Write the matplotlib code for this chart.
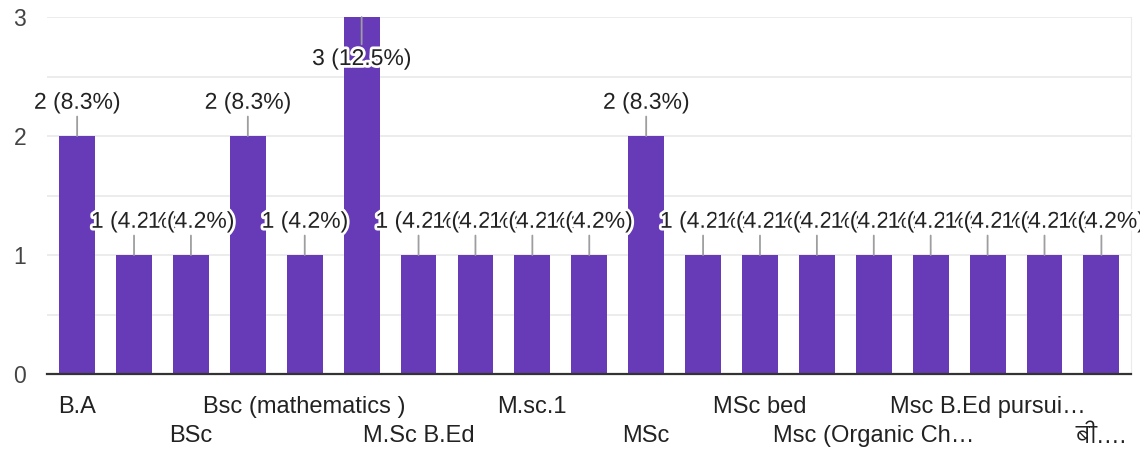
import matplotlib
matplotlib.use("Agg")
import matplotlib.pyplot as plt
import matplotlib.patheffects as pe
from matplotlib import font_manager

categories = ['B.A', '', 'BSc', '', 'Bsc (mathematics )', '', 'M.Sc B.Ed', '',
              'M.sc.1', '', 'MSc', '', 'MSc bed', '', 'Msc (Organic Ch…', '',
              'Msc B.Ed pursui…', '', 'बी.…']
counts = [2, 1, 1, 2, 1, 3, 1, 1, 1, 1, 2, 1, 1, 1, 1, 1, 1, 1, 1]
yticks = [0, 1, 2, 3]

total = sum(counts)
bar_color = '#673ab7'
fs = 16.5

# a family with Devanagari glyphs for the hindi label
deva = sorted(f.name for f in font_manager.fontManager.ttflist
              if 'Devanagari' in f.name and f.weight in (400, 'normal'))
deva = [n for n in deva if 'UI' not in n] or deva
families = ['Liberation Sans'] + deva[:1] + ['DejaVu Sans']
plt.rcParams['font.family'] = families

fig = plt.figure(figsize=(11.4, 4.5), dpi=100)
ax = fig.add_axes([0.0412, 1 - 374/450, 0.9509, (374 - 17)/450])

x = list(range(len(counts)))
ax.bar(x, counts, width=0.63, color=bar_color, zorder=2)

ax.set_xlim(-0.53, 18.52)
ax.set_ylim(0, 3)
ax.set_yticks(yticks)
ax.set_yticks([0.5, 1.5, 2.5], minor=True)
ax.grid(axis='y', which='both', color='#ebebeb', lw=1.3, zorder=0)
ax.set_axisbelow(True)
for s in ['top', 'left']:
    ax.spines[s].set_visible(False)
ax.spines['right'].set_color('#ebebeb')
ax.spines['bottom'].set_color('#333333')
ax.spines['bottom'].set_linewidth(1.6)
ax.spines['bottom'].set_zorder(3)

ax.tick_params(axis='y', which='both', length=0, labelsize=fs, labelcolor='#444444', pad=15)
ax.tick_params(axis='x', length=0, labelsize=17, labelcolor='#222222')
ax.set_xticks(x)
ax.set_xticklabels(categories)
for i, t in enumerate(ax.xaxis.get_major_ticks()):
    t.set_pad(16 if i % 4 == 0 else 37)

outline = [pe.withStroke(linewidth=4, foreground='white')]
for i, v in enumerate(counts):
    lab = '{} ({:.1f}%)'.format(v, v / total * 100)
    if v == max(counts):
        off, va, rp = -21.6, 'top', (0.5, 1)
    else:
        off, va, rp = 16, 'bottom', (0.5, 0)
    t = ax.annotate(lab, xy=(i, v), xytext=(0, off), textcoords='offset points',
                    ha='center', va=va, fontsize=fs, color='#222222',
                    annotation_clip=False, zorder=5 + i,
                    arrowprops=dict(arrowstyle='-', color='#9e9e9e', lw=1.3,
                                    shrinkA=0, shrinkB=0, relpos=rp))
    t.set_path_effects(outline)

plt.savefig('out.png', dpi=100)
